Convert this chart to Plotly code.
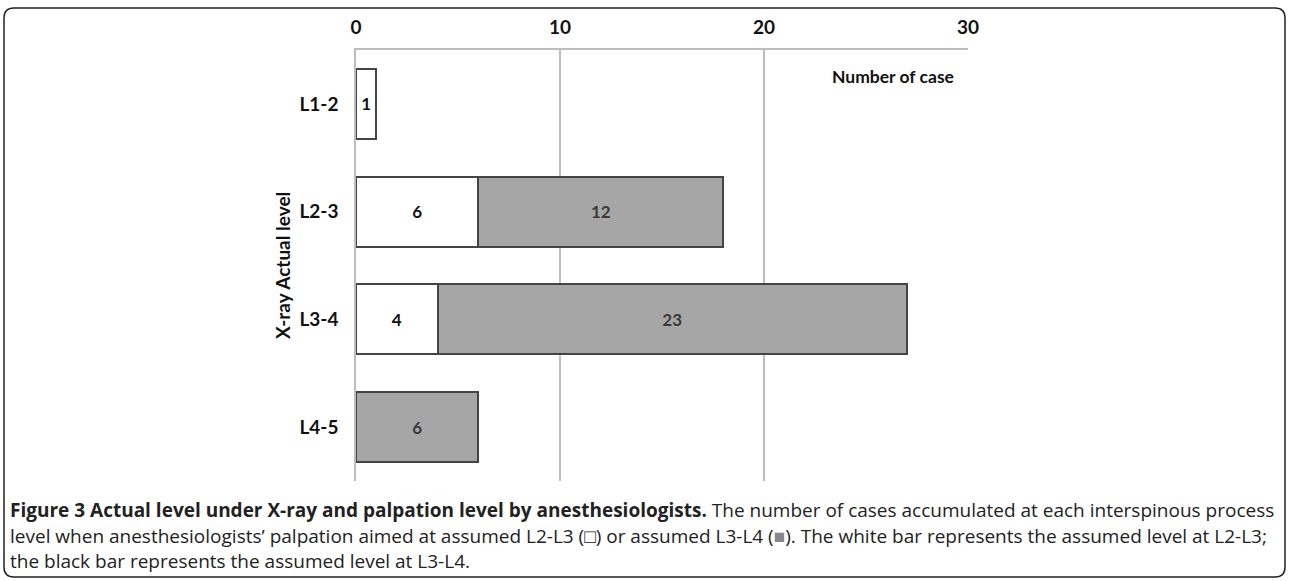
import plotly.graph_objects as go

levels = ["L1-2", "L2-3", "L3-4", "L4-5"]
assumed_l23 = [1, 6, 4, 0]    # white bars
assumed_l34 = [0, 12, 23, 6]  # gray bars
x_ticks = [0, 10, 20, 30]

W, H = 1289, 581
L, R, T, B = 356, 968, 50, 481  # plot area in pixels


def px(x):
    return (x - L) / (R - L)


def py(y):
    return (B - y) / (B - T)


FONT = "Lato"
CAP = "Open Sans"

fig = go.Figure()
for vals, fill, tcol in [(assumed_l23, "#ffffff", "#111111"), (assumed_l34, "#a6a6a6", "#3a3a3a")]:
    fig.add_trace(go.Bar(
        y=levels,
        x=[v if v else None for v in vals],
        orientation="h",
        width=0.65,
        marker=dict(color=fill, line=dict(color="#444444", width=2)),
        text=[str(v) if v else "" for v in vals],
        textposition="inside",
        insidetextanchor="middle",
        constraintext="none",
        textfont=dict(family=FONT, size=17, color=tcol, weight="bold"),
        showlegend=False,
        hoverinfo="skip",
    ))

# rounded figure border (paper coordinates)
x0, x1, y0, y1, r = 4, 1285, 8, 577, 10
def P(xp, yp):
    return f"{px(xp):.5f},{py(yp):.5f}"
path = (f"M {P(x0 + r, y0)} L {P(x1 - r, y0)} Q {P(x1, y0)} {P(x1, y0 + r)} "
        f"L {P(x1, y1 - r)} Q {P(x1, y1)} {P(x1 - r, y1)} "
        f"L {P(x0 + r, y1)} Q {P(x0, y1)} {P(x0, y1 - r)} "
        f"L {P(x0, y0 + r)} Q {P(x0, y0)} {P(x0 + r, y0)} Z")
fig.add_shape(type="path", xref="paper", yref="paper", path=path,
              line=dict(color="#222222", width=1.5), fillcolor="rgba(0,0,0,0)", layer="above")

annos = [
    dict(x=px(956), y=py(76), text="Number of case", xanchor="right", yanchor="middle",
         font=dict(family=FONT, size=17.5, color="#111111", weight="bold")),
    dict(x=px(282), y=py(266), text="X-ray Actual level", textangle=-90, xanchor="center", yanchor="middle",
         font=dict(family=FONT, size=19, color="#111111", weight="bold")),
    dict(x=px(8), y=py(510), xanchor="left", yanchor="middle", align="left",
         text="<b>Figure 3 Actual level under X-ray and palpation level by anesthesiologists.</b> "
              "The number of cases accumulated at each interspinous process",
         font=dict(family=CAP, size=19, color="#222222")),
    dict(x=px(8), y=py(536), xanchor="left", yanchor="middle", align="left",
         text="level when anesthesiologists\u2019 palpation aimed at assumed L2-L3 (\u25a1) or assumed L3-L4 "
              "(<span style='color:#888888'>\u25a0</span>). The white bar represents the assumed level at L2-L3;",
         font=dict(family=CAP, size=19, color="#222222")),
    dict(x=px(8), y=py(561), xanchor="left", yanchor="middle", align="left",
         text="the black bar represents the assumed level at L3-L4.",
         font=dict(family=CAP, size=19, color="#222222")),
]
for a in annos:
    a.update(xref="paper", yref="paper", showarrow=False)
    fig.add_annotation(**a)

fig.update_layout(
    width=W, height=H,
    margin=dict(l=L, r=W - R, t=T, b=H - B, autoexpand=False),
    barmode="stack",
    bargap=0.35,
    plot_bgcolor="white",
    paper_bgcolor="white",
    xaxis=dict(side="top", range=[0, 30], tickvals=x_ticks, showgrid=True, gridcolor="#bdbdbd",
               gridwidth=1.5, showline=True, linecolor="#bdbdbd", linewidth=1.5, zeroline=False,
               ticks="", ticklabelstandoff=7,
               tickfont=dict(family=FONT, size=19, color="#111111", weight="bold")),
    yaxis=dict(categoryorder="array", categoryarray=levels, autorange="reversed",
               showline=True, linecolor="#bdbdbd", linewidth=1.5, showgrid=False, zeroline=False,
               ticks="", ticklabelstandoff=12,
               tickfont=dict(family=FONT, size=19, color="#111111", weight="bold")),
)

fig.write_html("out.html", config={"displayModeBar": False},
               post_script="document.body.style.margin='0';document.body.style.overflow='hidden';")
